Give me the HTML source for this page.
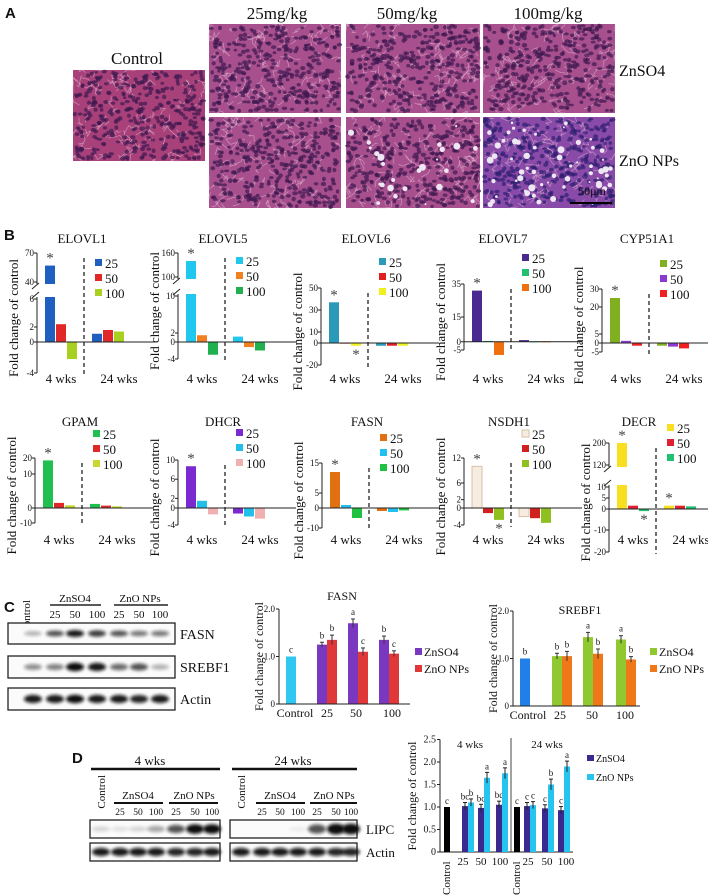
<!DOCTYPE html>
<html><head><meta charset="utf-8">
<style>
html,body{margin:0;padding:0;background:#fff;}
svg{display:block;font-family:"Liberation Serif",serif;}
</style></head>
<body>
<svg id="fig" width="708" height="896" viewBox="0 0 708 896" xmlns="http://www.w3.org/2000/svg">
<defs>
<filter id="blur1" x="-20%" y="-50%" width="140%" height="200%"><feGaussianBlur stdDeviation="1.6"/></filter>
</defs>
<rect x="0" y="0" width="708" height="896" fill="#fff"/>
</svg>
<script>
// ===== Panel B data (fold change) =====
const doseLabels = ['25','50','100'];
const weekLabels = ['4 wks','24 wks'];
const elovl1W4 = [57, 2.4, -2.2];   const elovl1W24 = [1.1, 1.6, 1.4];
const elovl5W4 = [140, 1.5, -3];    const elovl5W24 = [1.2, -1.2, -2];
const elovl6W4 = [37, 0.3, -2.5];   const elovl6W24 = [-2.5, -2.5, -2.5];
const elovl7W4 = [31, 0.5, -8];     const elovl7W24 = [1, 0.3, 0.3];
const cypW4 = [25, 1.2, -1.5];      const cypW24 = [-1.5, -2, -3];
const gpamW4 = [18.5, 1.5, 0.8];    const gpamW24 = [1.2, 0.7, 0.5];
const dhcrW4 = [8.7, 1.5, -1.5];    const dhcrW24 = [-1.3, -2, -2.5];
const fasnW4 = [12, 1, -5];         const fasnW24 = [-1.5, -2, -1.2];
const nsdhW4 = [10, -1.2, -2.8];    const nsdhW24 = [-2, -2.4, -3.5];
const decrW4 = [200, 1.5, -1];      const decrW24 = [1.5, 1.5, 1.2];
// ===== Panel C data =====
const cCategories = ['Control','25','50','100'];
const cFasnControl = 1.0;
const cFasnZnSO4 = [1.25, 1.7, 1.35];  const cFasnZnSO4Err = [0.05, 0.09, 0.08];
const cFasnZnO = [1.35, 1.1, 1.06];    const cFasnZnOErr = [0.1, 0.08, 0.06];
const cFasnLetters = ['c','b','b','a','c','b','c'];
const cSrebControl = 1.0;
const cSrebZnSO4 = [1.05, 1.45, 1.4];  const cSrebZnSO4Err = [0.06, 0.1, 0.08];
const cSrebZnO = [1.05, 1.1, 0.98];    const cSrebZnOErr = [0.1, 0.1, 0.06];
const cSrebLetters = ['b','b','b','a','b','a','b'];
const cYTicks = ['0','1.0','2.0'];
// ===== Panel D data =====
const dDoses = ['25','50','100'];
const dControl = [1.0, 1.0];
const dZnSO4W4 = [1.02, 0.98, 1.05];  const dZnOW4 = [1.1, 1.65, 1.75];
const dZnSO4W24 = [1.02, 0.97, 0.93]; const dZnOW24 = [1.04, 1.5, 1.9];
const dErr = [0.08, 0.1, 0.12];
const dLettersW4 = ['c','bc','b','bc','a','bc','a'];
const dLettersW24 = ['c','c','c','c','b','c','a'];
const dYTicks = ['0','0.5','1.0','1.5','2.0','2.5'];

const NS = 'http://www.w3.org/2000/svg';
const svg = document.getElementById('fig');
function mk(tag, attrs, name) {
  const el = document.createElementNS(NS, tag);
  for (const k in attrs) el.setAttribute(k, attrs[k]);
  
  
  svg.appendChild(el);
  return el;
}
function txt(x, y, s, size, name, opts) {
  opts = opts || {};
  const el = mk('text', {x: x, y: y, 'font-size': size, 'text-anchor': opts.anchor || 'middle', fill: opts.fill || '#111'}, name);
  if (opts.rot) el.setAttribute('transform', 'rotate(' + opts.rot + ' ' + x + ' ' + y + ')');
  if (opts.weight) el.setAttribute('font-weight', opts.weight);
  if (opts.family) el.setAttribute('font-family', opts.family);
  el.textContent = s;
  return el;
}
function line(x1, y1, x2, y2, name, stroke, w, dash) {
  const el = mk('line', {x1: x1, y1: y1, x2: x2, y2: y2, stroke: stroke || '#222', 'stroke-width': w || 1}, name);
  if (dash) el.setAttribute('stroke-dasharray', dash);
  return el;
}

// ===== Panel A: histology =====
function rng(seed) { return function () { seed |= 0; seed = seed + 0x6D2B79F5 | 0; let t = Math.imul(seed ^ seed >>> 15, 1 | seed); t = t + Math.imul(t ^ t >>> 7, 61 | t) ^ t; return ((t ^ t >>> 14) >>> 0) / 4294967296; }; }
function histo(x, y, w, h, seed, type, name) {
  const r = rng(seed);
  const base = type === 'ctrl' ? '#a8407a' : (type === 'vac2' ? '#8a4aa8' : '#a8508e');
  const g = mk('g', {}, name);
  const add = (tag, a) => { const e = document.createElementNS(NS, tag); for (const k in a) e.setAttribute(k, a[k]); g.appendChild(e); return e; };
  const bg = add('rect', {x: x, y: y, width: w, height: h, fill: base});
  
  for (let i = 0; i < 90; i++) {
    let px = x + r() * w, py = y + r() * h, d = 'M' + px.toFixed(1) + ' ' + py.toFixed(1);
    for (let j = 0; j < 3; j++) { px = Math.min(x + w, Math.max(x, px + (r() - 0.5) * 14)); py = Math.min(y + h, Math.max(y, py + (r() - 0.5) * 14)); d += ' L' + px.toFixed(1) + ' ' + py.toFixed(1); }
    add('path', {d: d, stroke: '#e6bcd6', 'stroke-width': 0.8, fill: 'none', opacity: 0.55});
  }
  const nN = Math.round(w * h / 34);
  const nc = type === 'vac2' ? '#2e2070' : '#3e1850';
  for (let i = 0; i < nN; i++) {
    add('ellipse', {cx: (x + 1.5 + r() * (w - 3)).toFixed(1), cy: (y + 1.5 + r() * (h - 3)).toFixed(1), rx: (1.7 + r() * 1.1).toFixed(1), ry: (1.4 + r() * 0.9).toFixed(1), fill: nc, opacity: 0.7});
  }
  if (type === 'vac' || type === 'vac2') {
    const nv = type === 'vac2' ? 60 : 25;
    for (let i = 0; i < nv; i++) add('circle', {cx: (x + 3 + r() * (w - 6)).toFixed(1), cy: (y + 3 + r() * (h - 6)).toFixed(1), r: (1 + r() * 2.6).toFixed(1), fill: '#eee6f2'});
  }
}
txt(5, 18, 'A', 15, 'panel-a-label', {anchor: 'start', weight: 'bold', family: '"Liberation Sans",sans-serif'});
histo(73, 70, 132, 91, 11, 'ctrl', 'control-histology');
histo(209, 24, 132, 89, 21, 'norm', 'znso4-25-histology');
histo(346, 24, 134, 89, 31, 'norm', 'znso4-50-histology');
histo(483, 24, 132, 89, 41, 'norm', 'znso4-100-histology');
histo(209, 117, 132, 91, 51, 'norm', 'zno-25-histology');
histo(346, 117, 134, 91, 61, 'vac', 'zno-50-histology');
histo(483, 117, 132, 91, 71, 'vac2', 'zno-100-histology');
txt(137, 64, 'Control', 17, 'control-label');
txt(277, 19, '25mg/kg', 17, 'dose-25-label');
txt(407, 19, '50mg/kg', 17, 'dose-50-label');
txt(548, 19, '100mg/kg', 17, 'dose-100-label');
txt(619, 76, 'ZnSO4', 16, 'znso4-row-label', {anchor: 'start'});
txt(619, 166, 'ZnO NPs', 16, 'zno-row-label', {anchor: 'start'});
txt(592, 195, '50μm', 12, 'scale-bar-label');
line(570, 203, 612, 203, 'scale-bar', '#000', 2);

// ===== Panel B: mini bar charts =====
txt(4, 240, 'B', 15, 'panel-b-label', {anchor: 'start', weight: 'bold', family: '"Liberation Sans",sans-serif'});
function mkScale(knots) {
  const k = knots.slice().sort((a, b) => a[0] - b[0]);
  return function (v) {
    let i = 0;
    while (i < k.length - 2 && v > k[i + 1][0]) i++;
    const a = k[i], b = k[i + 1];
    return a[1] + (v - a[0]) * (b[1] - a[1]) / (b[0] - a[0]);
  };
}
function miniChart(c, w4, w24) {
  const s = mkScale(c.knots);
  const ax = c.ax;
  const key = c.title.toLowerCase();
  const yTop = s(c.ticks[0]), yBot = s(c.ticks[c.ticks.length - 1]);
  txt(ax + (c.titleDx || 45), c.titleY, c.title, 13, key + '-title');
  txt(ax - 19, (yTop + yBot) / 2 + 5, 'Fold change of control', 13, key + '-y-axis-title', {rot: -90});
  [w4, w24].forEach((vals, g) => {
    vals.forEach((v, i) => {
      const bx = ax + (g === 0 ? 8 : 55) + i * 11;
      const y0 = s(0), y1 = s(v);
      const b = mk('rect', {x: bx, y: Math.min(y0, y1), width: 10, height: Math.max(1, Math.abs(y1 - y0)), fill: c.colors[i]}, key + '-bar-' + (g === 0 ? '4wk' : '24wk') + '-' + doseLabels[i]);
      if (c.outline && c.outline[i]) b.setAttribute('stroke', c.outline[i]);
    });
  });
  if (c.brk) {
    mk('rect', {x: ax - 8, y: c.brk[1] + 2, width: 60, height: c.brk[0] - c.brk[1] - 4, fill: '#fff'}, key + '-axis-break-gap');
    line(ax - 5, c.brk[0] - 1, ax + 2, c.brk[0] - 7, key + '-break-mark-1', '#222', 1);
    line(ax - 5, c.brk[1] + 7, ax + 2, c.brk[1] + 1, key + '-break-mark-2', '#222', 1);
  }
  if (c.brk) {
    line(ax, yTop, ax, c.brk[1] + 2, key + '-y-axis-upper');
    line(ax, c.brk[0] - 2, ax, yBot, key + '-y-axis-lower');
  } else {
    line(ax, yTop, ax, yBot, key + '-y-axis');
  }
  line(ax, s(0), ax + 118, s(0), key + '-x-axis');
  c.ticks.forEach(t => {
    line(ax - 3, s(t), ax, s(t), key + '-y-tick');
    txt(ax - 3, s(t) + 3, String(t), 9, key + '-y-tick-label', {anchor: 'end'});
  });
  line(ax + 47, yTop + 5, ax + 47, yBot + 2, key + '-week-divider', '#222', 1.3, '4,3');
  txt(ax + 24, c.wkY, weekLabels[0], 13, key + '-4wks-label');
  txt(ax + 82, c.wkY, weekLabels[1], 13, key + '-24wks-label');
  doseLabels.forEach((d, i) => {
    const ly = c.legY + i * 15;
    const sw = mk('rect', {x: ax + 58, y: ly - 4, width: 7, height: 7, fill: c.colors[i]}, key + '-legend-swatch-' + d);
    if (c.outline && c.outline[i]) sw.setAttribute('stroke', c.outline[i]);
    txt(ax + 68, ly + 5, d, 13, key + '-legend-label-' + d, {anchor: 'start'});
  });
  (c.stars || []).forEach(st => {
    const vals = st[0] === 0 ? w4 : w24;
    const v = vals[st[1]];
    const cx = ax + (st[0] === 0 ? 8 : 55) + st[1] * 11 + 5;
    const y = st[2] === 'up' ? s(Math.max(v, 0)) - 3 : s(Math.min(v, 0)) + 13;
    txt(cx, y, '*', 15, key + '-significance-star', {fill: '#444'});
  });
}
const r1 = {titleY: 243, wkY: 383};
const r2 = {titleY: 426, wkY: 544};
miniChart({title: 'ELOVL1', ax: 37, titleY: r1.titleY, wkY: r1.wkY, legY: 263, ticks: [70, 40, 6, 2, 0, -4],
  knots: [[-4, 373], [0, 342], [2, 327], [6, 299], [40, 282], [70, 253]], brk: [299, 282],
  colors: ['#1f5fbf', '#e02828', '#a8d020'], stars: [[0, 0, 'up']]}, elovl1W4, elovl1W24);
miniChart({title: 'ELOVL5', ax: 178, titleY: r1.titleY, wkY: r1.wkY, legY: 261, ticks: [160, 100, 10, 2, 0, -4],
  knots: [[-4, 359], [0, 342], [2, 333], [10, 296], [100, 277], [160, 253]], brk: [296, 277],
  colors: ['#20c8f0', '#f08020', '#20b050'], stars: [[0, 0, 'up']]}, elovl5W4, elovl5W24);
miniChart({title: 'ELOVL6', ax: 321, titleY: r1.titleY, wkY: r1.wkY, legY: 262, ticks: [50, 30, 10, 0, -20],
  knots: [[-20, 365], [50, 288]],
  colors: ['#2a9ab8', '#e02020', '#f0f020'], stars: [[0, 0, 'up'], [0, 2, 'down']]}, elovl6W4, elovl6W24);
miniChart({title: 'ELOVL7', ax: 464, titleDx: 39, titleY: r1.titleY, wkY: r1.wkY, legY: 258, ticks: [35, 15, 0, -5],
  knots: [[-5, 350], [35, 284]],
  colors: ['#4a2a90', '#20c070', '#f07010'], stars: [[0, 0, 'up']]}, elovl7W4, elovl7W24);
miniChart({title: 'CYP51A1', ax: 602, titleY: r1.titleY, wkY: r1.wkY, legY: 264, ticks: [30, 20, 5, 0, -5],
  knots: [[-5, 352], [30, 289]],
  colors: ['#80b020', '#8a3ad0', '#f02020'], stars: [[0, 0, 'up']]}, cypW4, cypW24);
miniChart({title: 'GPAM', ax: 35, titleY: r2.titleY, wkY: r2.wkY, legY: 434, ticks: [20, 10, 0, -10],
  knots: [[-10, 523], [0, 508], [10, 474], [20, 458]],
  colors: ['#20c050', '#e02828', '#c8d830'], stars: [[0, 0, 'up']]}, gpamW4, gpamW24);
miniChart({title: 'DHCR', ax: 178, titleY: r2.titleY, wkY: r2.wkY, legY: 433, ticks: [10, 6, 2, 0, -4],
  knots: [[-4, 525], [0, 508], [10, 460]],
  colors: ['#7a2ad0', '#20c0e8', '#f0b0b0'], stars: [[0, 0, 'up']]}, dhcrW4, dhcrW24);
miniChart({title: 'FASN', ax: 322, titleY: r2.titleY, wkY: r2.wkY, legY: 438, ticks: [15, 5, 0, -10],
  knots: [[-10, 528], [0, 508], [15, 463]],
  colors: ['#e07010', '#20c0f0', '#20c040'], stars: [[0, 0, 'up']]}, fasnW4, fasnW24);
miniChart({title: 'NSDH1', ax: 464, titleY: r2.titleY, wkY: r2.wkY, legY: 434, ticks: [12, 6, 2, 0, -4],
  knots: [[-4, 525], [0, 508], [12, 458]],
  colors: ['#f6ece0', '#d02020', '#90c020'], outline: ['#d8c0a8', null, null], stars: [[0, 0, 'up'], [0, 2, 'down']]}, nsdhW4, nsdhW24);
miniChart({title: 'DECR', ax: 609, titleDx: 30, titleY: r2.titleY, wkY: r2.wkY, legY: 428, ticks: [200, 120, 10, 5, 0, -10, -20],
  knots: [[-20, 552], [-10, 530], [0, 509], [5, 498], [10, 487], [120, 465], [200, 443]], brk: [487, 465],
  colors: ['#f8e020', '#e02030', '#20c070'], stars: [[0, 0, 'up'], [0, 2, 'down'], [1, 0, 'up']]}, decrW4, decrW24);

// ===== Blots =====
function blot(x, y, w, h, lanes, intens, name, thick) {
  mk('rect', {x: x, y: y, width: w, height: h, fill: '#fbfbfb', stroke: '#222', 'stroke-width': 1.3}, name + '-box');
  lanes.forEach((lx, i) => {
    if (intens[i] <= 0) return;
    mk('ellipse', {cx: lx, cy: y + h / 2, rx: 9, ry: (thick || 3) * (0.6 + intens[i] * 0.6), fill: '#111', opacity: Math.min(1, intens[i]), filter: 'url(#blur1)'}, name + '-band');
  });
}
txt(4, 612, 'C', 15, 'panel-c-label', {anchor: 'start', weight: 'bold', family: '"Liberation Sans",sans-serif'});
txt(30, 600, 'Control', 11, 'c-blot-control-label', {rot: -90, anchor: 'end'});
txt(75, 602, 'ZnSO4', 11, 'c-blot-znso4-header');
txt(140, 602, 'ZnO NPs', 11, 'c-blot-zno-header');
line(50, 605, 101, 605, 'c-znso4-underline', '#222', 1.5);
line(114, 605, 168, 605, 'c-zno-underline', '#222', 1.5);
const cLaneX = [33, 55, 75, 97, 119, 139, 160];
['25','50','100','25','50','100'].forEach((d, i) => txt(cLaneX[i + 1], 618, d, 11, 'c-blot-dose-label'));
blot(8, 623, 167, 21, cLaneX, [0.3, 0.7, 0.95, 0.8, 0.7, 0.55, 0.55], 'c-fasn-blot', 3);
blot(8, 656, 167, 22, cLaneX, [0.45, 0.5, 1, 0.95, 0.6, 0.7, 0.3], 'c-srebf1-blot', 3.5);
blot(8, 688, 167, 22, cLaneX, [0.95, 0.95, 1, 0.95, 0.95, 0.9, 0.95], 'c-actin-blot', 3.5);
txt(180, 639, 'FASN', 14, 'c-fasn-blot-label', {anchor: 'start'});
txt(180, 672, 'SREBF1', 14, 'c-srebf1-blot-label', {anchor: 'start'});
txt(180, 704, 'Actin', 14, 'c-actin-blot-label', {anchor: 'start'});

// ===== Panel C charts =====
function cChart(o, ctrl, s1, s1e, s2, s2e, letters) {
  const y = v => o.y0 - v * o.k;
  const key = o.key;
  txt(o.titleX, o.titleY, o.title, 12, key + '-chart-title');
  txt(o.ax - 16, (y(0) + y(2)) / 2, 'Fold change of control', 12, key + '-y-axis-title', {rot: -90});
  mk('rect', {x: o.ctrlX, y: y(ctrl), width: 10, height: y(0) - y(ctrl), fill: o.ctrlColor}, key + '-bar-control');
  txt(o.ctrlX + 5, y(ctrl) - 4, letters[0], 9, key + '-letter-control');
  s1.forEach((v, i) => {
    const cx = o.centers[i];
    const items = [[v, s1e[i], cx - 10, o.c1, 'znso4', letters[1 + i * 2]], [s2[i], s2e[i], cx, o.c2, 'zno', letters[2 + i * 2]]];
    items.forEach(it => {
      mk('rect', {x: it[2], y: y(it[0]), width: 10, height: y(0) - y(it[0]), fill: it[3]}, key + '-bar-' + it[4] + '-' + cCategories[i + 1]);
      line(it[2] + 5, y(it[0] + it[1]), it[2] + 5, y(it[0] - it[1]), key + '-error-bar', '#333', 1);
      line(it[2] + 3, y(it[0] + it[1]), it[2] + 7, y(it[0] + it[1]), key + '-error-cap', '#333', 1);
      txt(it[2] + 5, y(it[0] + it[1]) - 4, it[5], 9, key + '-letter');
    });
  });
  line(o.ax, y(2), o.ax, y(0), key + '-y-axis');
  line(o.ax, y(0), o.xEnd, y(0), key + '-x-axis');
  [0, 1, 2].forEach((t, i) => {
    line(o.ax - 3, y(t), o.ax, y(t), key + '-y-tick');
    txt(o.ax - 4, y(t) + 3, cYTicks[i], 9, key + '-y-tick-label', {anchor: 'end'});
  });
  cCategories.forEach((c, i) => txt(o.labX[i], y(0) + 13, c, 12, key + '-x-label'));
  mk('rect', {x: o.legX, y: 648, width: 7, height: 7, fill: o.c1}, key + '-legend-swatch-znso4');
  txt(o.legX + 9, 656, 'ZnSO4', 12, key + '-legend-znso4', {anchor: 'start'});
  mk('rect', {x: o.legX, y: 665, width: 7, height: 7, fill: o.c2}, key + '-legend-swatch-zno');
  txt(o.legX + 9, 673, 'ZnO NPs', 12, key + '-legend-zno', {anchor: 'start'});
}
cChart({key: 'c-fasn', title: 'FASN', titleX: 342, titleY: 600, ax: 279, y0: 704, k: 47.5, xEnd: 410, ctrlX: 286, ctrlColor: '#30c8f0',
  centers: [327, 358, 389], c1: '#7a38c0', c2: '#e03838', labX: [295, 327, 356, 392], legX: 415},
  cFasnControl, cFasnZnSO4, cFasnZnSO4Err, cFasnZnO, cFasnZnOErr, cFasnLetters);
cChart({key: 'c-srebf1', title: 'SREBF1', titleX: 580, titleY: 614, ax: 513, y0: 706, k: 47.5, xEnd: 640, ctrlX: 520, ctrlColor: '#2080e8',
  centers: [562, 593, 626], c1: '#90c830', c2: '#f07818', labX: [528, 560, 592, 625], legX: 650},
  cSrebControl, cSrebZnSO4, cSrebZnSO4Err, cSrebZnO, cSrebZnOErr, cSrebLetters);

// ===== Panel D blots =====
txt(72, 763, 'D', 15, 'panel-d-label', {anchor: 'start', weight: 'bold', family: '"Liberation Sans",sans-serif'});
txt(150, 765, '4 wks', 13, 'd-4wks-header');
line(91, 769, 220, 769, 'd-4wks-line', '#111', 2.5);
txt(293, 765, '24 wks', 13, 'd-24wks-header');
line(232, 769, 357, 769, 'd-24wks-line', '#111', 2.5);
const dLaneL = [101, 120, 138, 156, 176, 195, 212];
const dLaneR = [241, 262, 280, 298, 317, 336, 351];
[[dLaneL, 'left'], [dLaneR, 'right']].forEach(p => {
  const L = p[0];
  txt(L[0] + 4, 775, 'Control', 11, 'd-blot-control-label-' + p[1], {rot: -90, anchor: 'end'});
  txt((L[1] + L[3]) / 2, 799, 'ZnSO4', 11, 'd-blot-znso4-header-' + p[1]);
  txt((L[4] + L[6]) / 2, 799, 'ZnO NPs', 11, 'd-blot-zno-header-' + p[1]);
  line(L[1] - 6, 803, L[3] + 7, 803, 'd-znso4-underline', '#111', 2);
  line(L[4] - 7, 803, L[6] + 6, 803, 'd-zno-underline', '#111', 2);
  ['25','50','100','25','50','100'].forEach((d, i) => txt(L[i + 1], 815, d, 9.5, 'd-blot-dose-label'));
});
blot(90, 820, 130, 18, dLaneL, [0.15, 0.1, 0.15, 0.35, 0.7, 1, 1], 'd-lipc-4wk-blot', 4);
blot(230, 820, 127, 18, dLaneR, [0, 0, 0, 0.05, 0.7, 1, 1], 'd-lipc-24wk-blot', 4.5);
blot(90, 843, 130, 18, dLaneL, [0.95, 0.95, 0.95, 0.95, 0.9, 0.9, 0.95], 'd-actin-4wk-blot', 3.5);
blot(230, 843, 127, 18, dLaneR, [0.95, 0.95, 0.95, 0.95, 0.95, 0.9, 0.9], 'd-actin-24wk-blot', 3.5);
txt(366, 834, 'LIPC', 13, 'd-lipc-label', {anchor: 'start'});
txt(366, 857, 'Actin', 13, 'd-actin-label', {anchor: 'start'});

// ===== Panel D chart =====
(function () {
  const ax = 440, y = v => 852 - v * 45;
  txt(416, 796, 'Fold change of control', 12, 'd-y-axis-title', {rot: -90});
  line(ax, y(2.5), ax, y(0), 'd-y-axis');
  line(ax, y(0), 573, y(0), 'd-x-axis');
  line(511, 738, 511, y(0), 'd-week-divider', '#444', 1);
  dYTicks.forEach((t, i) => {
    line(ax - 3, y(i * 0.5), ax, y(i * 0.5), 'd-y-tick');
    txt(ax - 4, y(i * 0.5) + 3, t, 10, 'd-y-tick-label', {anchor: 'end'});
  });
  txt(470, 748, '4 wks', 11, 'd-chart-4wks-label');
  txt(547, 748, '24 wks', 11, 'd-chart-24wks-label');
  const groups = [
    {ctrlX: 444, lefts: [462, 478, 496], s: dZnSO4W4, z: dZnOW4, let: dLettersW4, wk: '4wk', labs: [463, 481, 500], ctrlLab: 450},
    {ctrlX: 514, lefts: [524, 542, 558], s: dZnSO4W24, z: dZnOW24, let: dLettersW24, wk: '24wk', labs: [528, 547, 566], ctrlLab: 520}
  ];
  groups.forEach((g, gi) => {
    mk('rect', {x: g.ctrlX, y: y(dControl[gi]), width: 6, height: y(0) - y(dControl[gi]), fill: '#000'}, 'd-bar-control-' + g.wk);
    txt(g.ctrlX + 3, y(dControl[gi]) - 3, g.let[0], 9, 'd-letter');
    g.lefts.forEach((lx, i) => {
      [[g.s[i], lx, '#3a2a90', 'znso4', g.let[1 + i * 2]], [g.z[i], lx + 6, '#28c4f0', 'zno', g.let[2 + i * 2]]].forEach(it => {
        const e = it[0] > 1.3 ? dErr[2] : dErr[0];
        mk('rect', {x: it[1], y: y(it[0]), width: 6, height: y(0) - y(it[0]), fill: it[2]}, 'd-bar-' + it[3] + '-' + g.wk + '-' + dDoses[i]);
        line(it[1] + 3, y(it[0] + e), it[1] + 3, y(it[0] - e), 'd-error-bar', '#222', 1);
        line(it[1] + 1, y(it[0] + e), it[1] + 5, y(it[0] + e), 'd-error-cap', '#222', 1);
        txt(it[1] + 3, y(it[0] + e) - 3, it[4], 9, 'd-letter');
      });
      txt(g.labs[i], 865, dDoses[i], 11, 'd-x-label');
    });
    txt(g.ctrlLab, 895, 'Control', 11, 'd-x-label-control', {rot: -90, anchor: 'start'});
  });
  mk('rect', {x: 587, y: 755, width: 7, height: 6, fill: '#3a2a90'}, 'd-legend-swatch-znso4');
  txt(596, 762, 'ZnSO4', 10, 'd-legend-znso4', {anchor: 'start'});
  mk('rect', {x: 587, y: 774, width: 7, height: 6, fill: '#28c4f0'}, 'd-legend-swatch-zno');
  txt(596, 781, 'ZnO NPs', 10, 'd-legend-zno', {anchor: 'start'});
})();
</script>
</body></html>
